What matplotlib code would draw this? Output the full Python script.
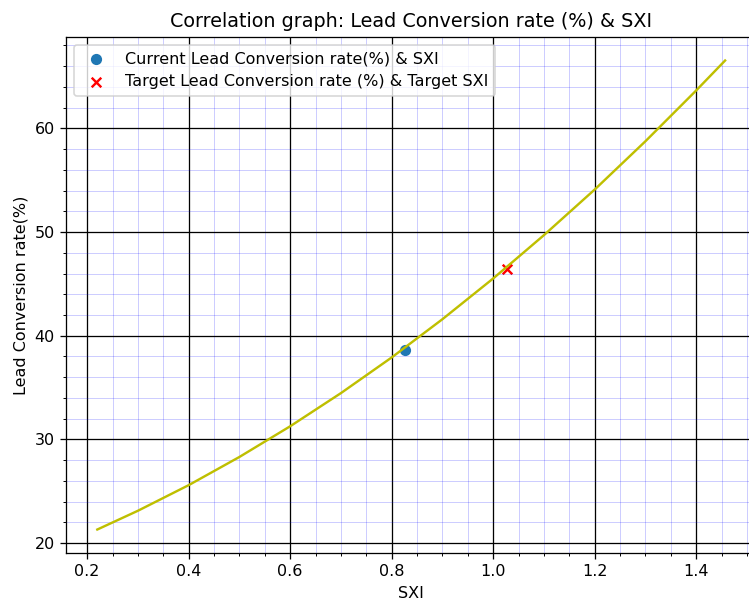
import numpy as np
import matplotlib
matplotlib.use("Agg")
import matplotlib.pyplot as plt

# curve
sxi = [0.22, 0.3, 0.4, 0.5, 0.6, 0.7, 0.8, 0.9, 1.0, 1.1, 1.2, 1.3, 1.4, 1.457]
conv = [21.3, 23.11, 25.58, 28.30, 31.26, 34.46, 37.90, 41.59, 45.52, 49.70, 54.10, 58.76, 63.66, 66.55]

current_sxi = [0.827]
current_conv = [38.6]
target_sxi = [1.028]
target_conv = [46.4]

dpi = 115
fig = plt.figure(figsize=(749 / dpi, 598 / dpi), dpi=dpi)
ax = fig.add_axes([0.088, 0.0753, 0.922, 0.8627])

ax.plot(sxi, conv, color='y')
ax.scatter(current_sxi, current_conv, label='Current Lead Conversion rate(%) & SXI')
ax.scatter(target_sxi, target_conv, color='red', marker='x', label='Target Lead Conversion rate (%) & Target SXI')

ax.minorticks_on()
ax.grid(which='major', color='black', linewidth=0.8)
ax.grid(which='minor', color='blue', linewidth=0.4, alpha=0.3)

ax.set_title('Correlation graph: Lead Conversion rate (%) & SXI', fontsize=12)
ax.set_xlabel('SXI')
ax.set_ylabel('Lead Conversion rate(%)')
ax.legend(loc='upper left')

fig.savefig('out.png', dpi=dpi)
